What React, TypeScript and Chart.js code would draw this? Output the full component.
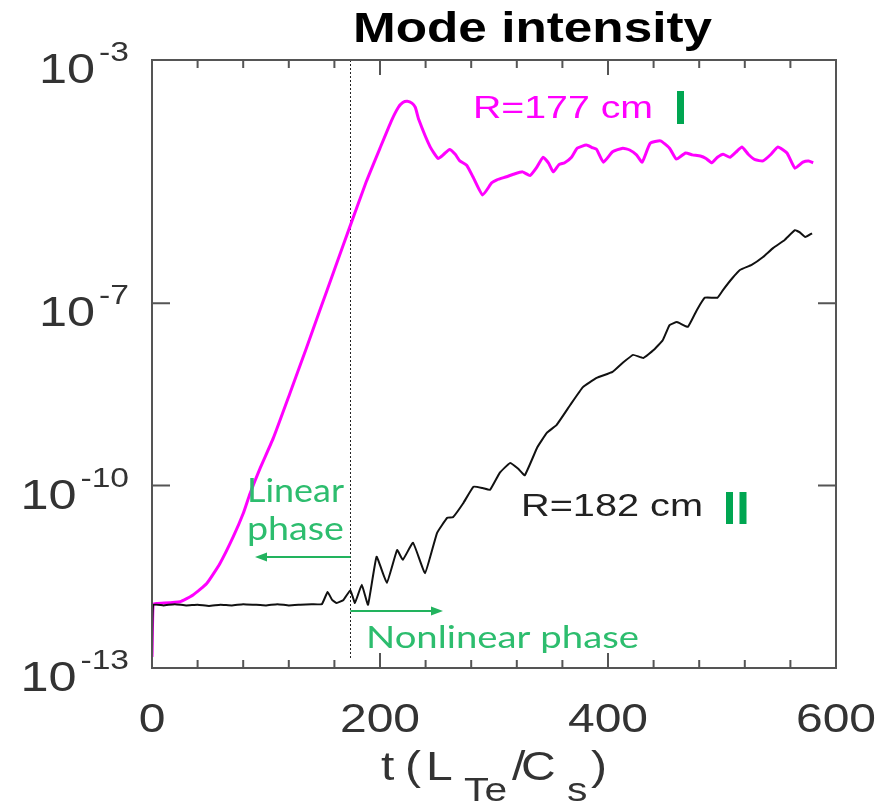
import React, { useEffect, useRef } from "react";
import { Chart, registerables } from "chart.js";

Chart.register(...registerables);

// ---- data (t in L_Te/C_s, values as log10 of mode intensity) ----
const magentaT = [0, 1, 4, 24.6, 36, 48, 59.6, 71.3, 80, 86, 94.7, 106.4, 121, 135, 147, 160, 174, 188, 200, 210, 216, 220, 224, 228, 231, 234, 244, 251, 256, 261, 266, 270, 276, 281.5, 290, 298, 302.6, 311, 317, 325, 331.6, 337, 343, 348, 352, 357, 362, 368, 373, 381, 386, 390, 396, 404, 413, 419, 425, 430, 437, 446, 454, 460, 468, 474, 481, 486, 491, 496, 501, 507, 512, 517.5, 523, 529, 536, 543, 549, 557, 564, 571, 576, 580];
const magentaExp = [-12.82, -11.96, -11.94, -11.91, -11.8, -11.61, -11.28, -10.84, -10.46, -10.13, -9.72, -9.22, -8.48, -7.76, -7.13, -6.45, -5.72, -5.0, -4.45, -4.0, -3.78, -3.7, -3.68, -3.71, -3.78, -3.98, -4.43, -4.62, -4.55, -4.47, -4.55, -4.66, -4.73, -4.92, -5.22, -5.02, -4.97, -4.92, -4.88, -4.84, -4.9, -4.78, -4.6, -4.7, -4.84, -4.72, -4.69, -4.6, -4.45, -4.4, -4.44, -4.47, -4.68, -4.51, -4.45, -4.48, -4.56, -4.68, -4.37, -4.33, -4.45, -4.63, -4.53, -4.56, -4.58, -4.62, -4.69, -4.6, -4.55, -4.6, -4.52, -4.43, -4.55, -4.64, -4.66, -4.55, -4.43, -4.53, -4.78, -4.68, -4.66, -4.69];

const blackT = [0, 1, 10, 20, 30, 40, 50, 60, 70, 80, 90, 100, 110, 120, 130, 140, 149, 154, 158, 162, 168, 174, 178, 184, 189.5, 197, 206, 215, 220, 229, 239.5, 250, 259, 264, 273, 282, 290, 296.5, 305, 314, 321, 327, 338, 346.5, 355, 367, 378, 390, 404, 413, 422, 431, 440, 448, 454, 460.5, 470, 478, 485, 496, 501, 509, 516, 526, 536, 545, 555, 564, 568, 573, 579];
const blackExp = [-12.82, -11.96, -11.97, -11.95, -11.97, -11.96, -11.98, -11.96, -11.97, -11.95, -11.96, -11.97, -11.95, -11.97, -11.96, -11.95, -11.95, -11.75, -11.88, -11.93, -11.88, -11.72, -11.93, -11.63, -11.96, -11.17, -11.6, -11.06, -11.22, -10.94, -11.44, -10.78, -10.53, -10.52, -10.29, -10.02, -10.04, -10.07, -9.79, -9.63, -9.72, -9.83, -9.37, -9.13, -9.0, -8.67, -8.38, -8.23, -8.13, -7.98, -7.85, -7.9, -7.77, -7.61, -7.36, -7.31, -7.39, -7.11, -6.91, -6.91, -6.78, -6.59, -6.45, -6.37, -6.24, -6.09, -5.96, -5.8, -5.83, -5.91, -5.85];

const xMajorTicks = [0, 200, 400, 600];
const xMinorTicks = [40, 80, 120, 160, 240, 280, 320, 360, 440, 480, 520, 560];
const yLabelExps = [-3, -7, -10, -13];
const yTickExps = [-7, -10];
const phaseBoundaryT = 174;

const SX = 1.2;

function drawText(
  ctx: CanvasRenderingContext2D,
  s: string,
  x: number,
  y: number,
  font: string,
  color: string,
  align: "left" | "center" | "right",
  width?: number
): number {
  ctx.save();
  ctx.font = font;
  ctx.fillStyle = color;
  ctx.textAlign = "left";
  ctx.textBaseline = "alphabetic";
  const m = ctx.measureText(s).width;
  const w = width ?? m * SX;
  const sx = w / m;
  const left = align === "center" ? x - w / 2 : align === "right" ? x - w : x;
  ctx.translate(left, y);
  ctx.scale(sx, 1);
  ctx.fillText(s, 0, 0);
  ctx.restore();
  return w;
}

function arrow(ctx: CanvasRenderingContext2D, x0: number, x1: number, y: number, color: string) {
  const dir = Math.sign(x1 - x0);
  ctx.save();
  ctx.strokeStyle = color;
  ctx.fillStyle = color;
  ctx.lineWidth = 2;
  ctx.beginPath();
  ctx.moveTo(x0, y);
  ctx.lineTo(x1 - dir * 8, y);
  ctx.stroke();
  ctx.beginPath();
  ctx.moveTo(x1, y);
  ctx.lineTo(x1 - dir * 12, y - 4.5);
  ctx.lineTo(x1 - dir * 12, y + 4.5);
  ctx.closePath();
  ctx.fill();
  ctx.restore();
}

const decorPlugin = {
  id: "decor",
  beforeDatasetsDraw(chart: any) {
    const { ctx, chartArea, scales } = chart;
    const px = scales.x.getPixelForValue(phaseBoundaryT);
    ctx.save();
    ctx.strokeStyle = "#222";
    ctx.lineWidth = 1;
    ctx.setLineDash([2, 2]);
    ctx.beginPath();
    ctx.moveTo(Math.round(px) + 0.5, chartArea.top);
    ctx.lineTo(Math.round(px) + 0.5, chartArea.bottom - 8);
    ctx.stroke();
    ctx.restore();
  },
  afterDraw(chart: any) {
    const { ctx, chartArea, scales } = chart;
    const { left, top, right, bottom } = chartArea;
    const xs = scales.x;
    const ys = scales.y;
    const axisColor = "#555";
    const labelColor = "#333";

    ctx.save();
    ctx.strokeStyle = axisColor;
    ctx.lineWidth = 2;
    ctx.strokeRect(left, top, right - left, bottom - top);

    // x ticks (inward, top & bottom)
    const xt = (v: number, len: number) => {
      const p = xs.getPixelForValue(v);
      ctx.beginPath();
      ctx.moveTo(p, top);
      ctx.lineTo(p, top + len);
      ctx.moveTo(p, bottom);
      ctx.lineTo(p, bottom - len);
      ctx.stroke();
    };
    xMajorTicks.forEach((v) => xt(v, 15));
    xMinorTicks.forEach((v) => xt(v, 8));

    // y ticks (inward, left & right)
    yTickExps.forEach((e) => {
      const p = ys.getPixelForValue(Math.pow(10, e));
      ctx.beginPath();
      ctx.moveTo(left, p);
      ctx.lineTo(left + 18, p);
      ctx.moveTo(right, p);
      ctx.lineTo(right - 18, p);
      ctx.stroke();
    });
    ctx.restore();

    // y labels 10^e
    yLabelExps.forEach((e) => {
      const p = ys.getPixelForValue(Math.pow(10, e));
      const w = drawText(ctx, String(e), left - 23, p + 1, '28px "Liberation Sans"', labelColor, "right");
      drawText(ctx, "10", left - 23 - w - 4, p + 23, '42px "Liberation Sans"', labelColor, "right");
    });

    // x labels
    xMajorTicks.forEach((v) => {
      const p = xs.getPixelForValue(v);
      drawText(ctx, String(v), p, 732, '40px "Liberation Sans"', labelColor, "center");
    });

    // x title: t (L_Te / C_s)
    const mf = '40px "Liberation Sans"';
    const sf = '34px "Liberation Sans"';
    drawText(ctx, "t", 381, 780, mf, labelColor, "left");
    drawText(ctx, "(", 405, 780, mf, labelColor, "left");
    drawText(ctx, "L", 426, 780, mf, labelColor, "left");
    drawText(ctx, "Te", 464, 801, sf, labelColor, "left");
    drawText(ctx, "/", 512, 780, mf, labelColor, "left");
    drawText(ctx, "C", 521, 780, mf, labelColor, "left");
    drawText(ctx, "s", 567, 801, sf, labelColor, "left");
    drawText(ctx, ")", 591, 780, mf, labelColor, "left");

    // title
    drawText(ctx, "Mode intensity", 353, 42, 'bold 42px "Liberation Sans"', "#000", "left", 359);

    // series labels
    drawText(ctx, "R=177 cm", 473, 118, '31px "Liberation Sans"', "#ff00ff", "left", 180);
    drawText(ctx, "R=182 cm", 521, 516, '31px "Liberation Sans"', "#222", "left", 182);

    const barGreen = "#00a651";
    ctx.save();
    ctx.fillStyle = barGreen;
    ctx.fillRect(677, 91, 7, 33);
    ctx.fillRect(726, 492, 7, 32);
    ctx.fillRect(739.5, 492, 7, 32);
    ctx.restore();

    // phase annotations
    const tg = "#2dbd6e";
    drawText(ctx, "Linear", 247, 502, '32px Lato', tg, "left", 97);
    drawText(ctx, "phase", 247, 540, '32px Lato', tg, "left", 97);
    drawText(ctx, "Nonlinear phase", 366, 648, '30px Lato', tg, "left", 273);
    const bx = xs.getPixelForValue(phaseBoundaryT);
    arrow(ctx, bx, 255, 557, "#22b35e");
    arrow(ctx, bx, 443, 611, "#22b35e");
  },
};

export default function App() {
  const ref = useRef<HTMLCanvasElement | null>(null);

  useEffect(() => {
    if (!ref.current) return;
    const magentaData = magentaT.map((t, i) => ({ x: t, y: Math.pow(10, magentaExp[i]) }));
    const blackData = blackT.map((t, i) => ({ x: t, y: Math.pow(10, blackExp[i]) }));
    const chart = new Chart(ref.current, {
      type: "line",
      data: {
        datasets: [
          {
            label: "R=182 cm",
            data: blackData,
            borderColor: "#111",
            borderWidth: 2,
            pointRadius: 0,
            tension: 0.1,
            fill: false,
          },
          {
            label: "R=177 cm",
            data: magentaData,
            borderColor: "#ff00ff",
            borderWidth: 3,
            pointRadius: 0,
            tension: 0.15,
            fill: false,
          },
        ],
      },
      options: {
        responsive: false,
        animation: false,
        events: [],
        layout: { padding: { left: 152, top: 60, right: 52, bottom: 135 } },
        plugins: {
          legend: { display: false },
          title: { display: false },
          tooltip: { enabled: false },
        },
        scales: {
          x: { type: "linear", min: 0, max: 600, display: false },
          y: { type: "logarithmic", min: 1e-13, max: 1e-3, display: false },
        },
      },
      plugins: [decorPlugin],
    });
    return () => chart.destroy();
  }, []);

  return (
    <div style={{ position: "absolute", left: 0, top: 0, width: 888, height: 803, background: "#fff" }}>
      <canvas ref={ref} width={888} height={803} style={{ display: "block" }} />
    </div>
  );
}
